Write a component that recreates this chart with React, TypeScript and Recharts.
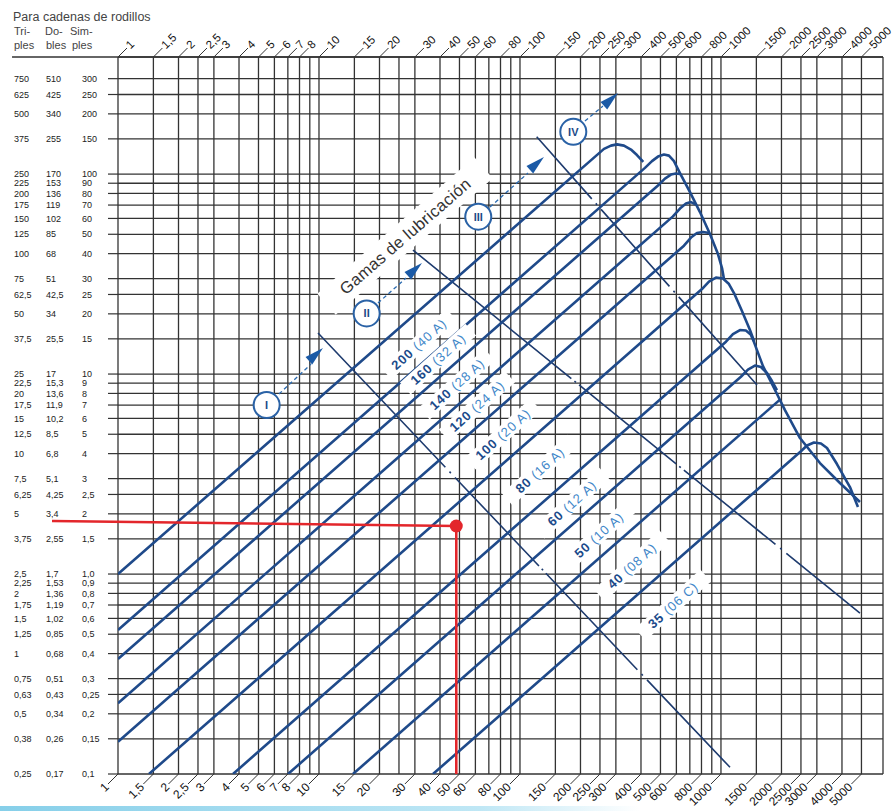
import React from "react";
import { LineChart, Line, XAxis, YAxis, CartesianGrid, ReferenceLine, ReferenceDot } from "recharts";

const FONT = "'Liberation Sans', Arial, Helvetica, sans-serif";

// ---- axes ----
const RPM_GRID = [1, 1.5, 2, 2.5, 3, 4, 5, 6, 7, 8, 9, 10, 15, 20, 25, 30, 40, 50, 60, 70, 80, 90, 100, 150, 200, 250, 300, 400, 500, 600, 700, 800, 900, 1000, 1500, 2000, 2500, 3000, 4000, 5000];
const RPM_LABELED = [1, 1.5, 2, 2.5, 3, 4, 5, 6, 7, 8, 10, 15, 20, 30, 40, 50, 60, 80, 100, 150, 200, 250, 300, 400, 500, 600, 800, 1000, 1500, 2000, 2500, 3000, 4000, 5000];

const SIMPLES = [300, 250, 200, 150, 100, 90, 80, 70, 60, 50, 40, 30, 25, 20, 15, 10, 9, 8, 7, 6, 5, 4, 3, 2.5, 2, 1.5, 1, 0.9, 0.8, 0.7, 0.6, 0.5, 0.4, 0.3, 0.25, 0.2, 0.15, 0.1];
const SIMPLES_TXT = ["300", "250", "200", "150", "100", "90", "80", "70", "60", "50", "40", "30", "25", "20", "15", "10", "9", "8", "7", "6", "5", "4", "3", "2,5", "2", "1,5", "1,0", "0,9", "0,8", "0,7", "0,6", "0,5", "0,4", "0,3", "0,25", "0,2", "0,15", "0,1"];
const DOBLES_TXT = ["510", "425", "340", "255", "170", "153", "136", "119", "102", "85", "68", "51", "42,5", "34", "25,5", "17", "15,3", "13,6", "11,9", "10,2", "8,5", "6,8", "5,1", "4,25", "3,4", "2,55", "1,7", "1,53", "1,36", "1,19", "1,02", "0,85", "0,68", "0,51", "0,43", "0,34", "0,26", "0,17"];
const TRIPLES_TXT = ["750", "625", "500", "375", "250", "225", "200", "175", "150", "125", "100", "75", "62,5", "50", "37,5", "25", "22,5", "20", "17,5", "15", "12,5", "10", "7,5", "6,25", "5", "3,75", "2,5", "2,25", "2", "1,75", "1,5", "1,25", "1", "0,75", "0,63", "0,5", "0,38", "0,25"];

// ---- chain curves (n = rpm, p = kW simple) ----
const C200 = [
  { n: 1, p: 1.0 }, { n: 261.8, p: 133.7 }, { n: 283.6, p: 138.8 }, { n: 303.8, p: 140.8 },
  { n: 329.1, p: 138.8 }, { n: 356.6, p: 132.6 }, { n: 382, p: 124.5 }, { n: 410.6, p: 115.2 },
];
const C160 = [
  { n: 1, p: 0.525 }, { n: 418.7, p: 107.4 }, { n: 453.7, p: 116.1 }, { n: 486.0, p: 122.3 },
  { n: 520.5, p: 125.2 }, { n: 551.1, p: 123.7 }, { n: 583.6, p: 116.1 }, { n: 625.2, p: 101.2 },
  { n: 701.3, p: 81.28 }, { n: 786.2, p: 64.57 }, { n: 881.6, p: 50.12 }, { n: 966.3, p: 39.81 },
  { n: 1012, p: 33.88 }, { n: 1035, p: 29.85 },
];
const C140 = [
  { n: 1, p: 0.376 }, { n: 486.0, p: 87.7 }, { n: 526.5, p: 94.95 }, { n: 563.9, p: 99.43 },
  { n: 597.2, p: 100.6 }, { n: 625.2, p: 100.0 },
];
const C120 = [
  { n: 1, p: 0.226 }, { n: 577.0, p: 61.44 }, { n: 625.2, p: 67.23 }, { n: 669.8, p: 71.19 },
  { n: 709.2, p: 72.44 }, { n: 750.9, p: 70.39 },
];
const C100 = [
  { n: 1, p: 0.145 }, { n: 654.5, p: 43.85 }, { n: 709.2, p: 48.14 }, { n: 759.6, p: 50.7 },
  { n: 813.5, p: 51.29 }, { n: 876.6, p: 50.7 },
];
const C80 = [
  { n: 1.426, p: 0.1 }, { n: 804.5, p: 26.61 }, { n: 871.6, p: 29.0 }, { n: 944.3, p: 30.38 },
  { n: 1023, p: 30.03 }, { n: 1096, p: 28.18 }, { n: 1161, p: 25.41 }, { n: 1272, p: 20.65 },
  { n: 1394, p: 16.6 }, { n: 1460, p: 14.62 },
];
const C60 = [
  { n: 3.734, p: 0.1 }, { n: 1059, p: 14.52 }, { n: 1147, p: 15.85 }, { n: 1243, p: 16.6 },
  { n: 1331, p: 16.5 }, { n: 1410, p: 15.7 }, { n: 1460, p: 14.45 }, { n: 1618, p: 10.96 },
  { n: 1857, p: 8.32 }, { n: 2082, p: 6.607 }, { n: 2472, p: 4.786 }, { n: 3108, p: 3.589 },
  { n: 3908, p: 2.851 }, { n: 4915, p: 2.291 },
];
const C50 = [
  { n: 7.013, p: 0.1 }, { n: 1257, p: 9.694 }, { n: 1362, p: 10.53 }, { n: 1476, p: 11.03 },
  { n: 1581, p: 10.84 }, { n: 1694, p: 10.12 }, { n: 1794, p: 9.226 }, { n: 1899, p: 8.318 },
];
const C40 = [{ n: 14.76, p: 0.1 }, { n: 1966, p: 7.45 }];
const C35 = [
  { n: 36.92, p: 0.1 }, { n: 2500, p: 4.11 }, { n: 2679, p: 4.391 }, { n: 2902, p: 4.545 },
  { n: 3144, p: 4.493 }, { n: 3369, p: 4.266 }, { n: 3776, p: 3.548 }, { n: 4383, p: 2.723 },
  { n: 4804, p: 2.163 },
];
const CHAINS = [C200, C160, C140, C120, C100, C80, C60, C50, C40, C35];

// chain labels
const LABEL_N = [31.4, 39.1, 48.6, 61.1, 82.3, 125.7, 181.4, 247.2, 360.7, 577];
const LABEL_P = [14.13, 11.89, 8.91, 6.92, 5.01, 3.31, 2.26, 1.57, 1.10, 0.70];
const LABEL_MAIN = ["200", "160", "140", "120", "100", "80", "60", "50", "40", "35"];
const LABEL_SUB = ["(40 A)", "(32 A)", "(28 A)", "(24 A)", "(20 A)", "(16 A)", "(12 A)", "(10 A)", "(08 A)", "(06 C)"];

// lubrication range boundaries
const LUB_A = [{ n: 9.89, p: 16.03 }, { n: 1109, p: 0.108 }];
const LUB_B = [{ n: 29.35, p: 41.7 }, { n: 4915, p: 0.638 }];
const LUB_C = [{ n: 121.1, p: 153.6 }, { n: 1511, p: 8.81 }];

// range circles, dashed arrows
const RANGE_TXT = ["I", "II", "III", "IV"];
const RANGE_N = [5.49, 17.27, 62.0, 184.2];
const RANGE_P = [7.0, 20.1, 61.2, 162.7];
const DASH_FROM = [{ n: 6.32, p: 7.94 }, { n: 19.66, p: 22.65 }, { n: 70.9, p: 68.4 }, { n: 210.5, p: 184.1 }];
const DASH_TO = [{ n: 9.13, p: 11.22 }, { n: 27.09, p: 30.2 }, { n: 109.6, p: 101.2 }, { n: 258.7, p: 218.8 }];
const ARROW_TIP = [{ n: 10.47, p: 13.49 }, { n: 32.53, p: 35.9 }, { n: 131.6, p: 121.6 }, { n: 307.3, p: 254.1 }];

// example (red)
const EX_RPM = 48.2;
const EX_KW = 1.738;
const EX_LEFT = { n: 0.4695, p: 1.841 };

const X_DOMAIN = [1, 6400];
const Y_DOMAIN = [0.1, 385];

const fmt = (v: number) => String(v).replace(".", ",");

const TopTick = (props: any) => {
  const { x, payload } = props;
  const v = payload && payload.value;
  if (!RPM_LABELED.includes(v)) return <g />;
  const y0 = 57;
  const tx = x + 10;
  const ty = y0 - 10;
  return (
    <g>
      <line x1={x} y1={y0} x2={x + 9} y2={y0 - 9} stroke="#333" strokeWidth={1} />
      <text x={tx} y={ty} dy="0.32em" transform={`rotate(-45 ${tx} ${ty})`} fontSize={11.5} fontFamily={FONT} fill="#111">
        {fmt(v)}
      </text>
    </g>
  );
};

const BottomTick = (props: any) => {
  const { x, payload } = props;
  const v = payload && payload.value;
  if (!RPM_LABELED.includes(v)) return <g />;
  const y0 = 774;
  const tx = x - 11;
  const ty = y0 + 11;
  return (
    <g>
      <line x1={x} y1={y0} x2={x - 10} y2={y0 + 10} stroke="#333" strokeWidth={1} />
      <text x={tx} y={ty} dy="0.32em" textAnchor="end" transform={`rotate(-45 ${tx} ${ty})`} fontSize={12} fontFamily={FONT} fill="#111">
        {fmt(v)}
      </text>
    </g>
  );
};

const YTick = (props: any) => {
  const { y, payload } = props;
  const i = SIMPLES.indexOf(payload && payload.value);
  if (i < 0) return <g />;
  const st = { fontSize: 9, fontFamily: FONT, fill: "#222" } as any;
  return (
    <g>
      <line x1={108} y1={y} x2={118} y2={y} stroke="#333" strokeWidth={1.2} />
      <text x={14} y={y} dy="0.35em" {...st}>{TRIPLES_TXT[i]}</text>
      <text x={46} y={y} dy="0.35em" {...st}>{DOBLES_TXT[i]}</text>
      <text x={82} y={y} dy="0.35em" {...st}>{SIMPLES_TXT[i]}</text>
    </g>
  );
};

const makeLabelShape = (i: number) => (props: any) => {
  const { cx, cy } = props;
  const w = 88;
  return (
    <g transform={`translate(${cx},${cy}) rotate(-42)`}>
      <rect x={-w / 2} y={-8} width={w} height={16} fill="#fff" />
      <text x={0} y={0} dy="0.36em" textAnchor="middle" fontSize={13} fontFamily={FONT} letterSpacing={0.9}>
        <tspan fontWeight="bold" fill="#1b4a8a">{LABEL_MAIN[i]}</tspan>
        <tspan fill="#3f87c9">{" " + LABEL_SUB[i]}</tspan>
      </text>
    </g>
  );
};

const makeCircleShape = (i: number) => (props: any) => {
  const { cx, cy } = props;
  return (
    <g>
      <circle cx={cx} cy={cy} r={13} fill="#fff" stroke="#2a62a6" strokeWidth={2} />
      <text x={cx} y={cy} dy="0.36em" textAnchor="middle" fontSize={11} fontWeight="bold" fontFamily={FONT} fill="#1d4a88">
        {RANGE_TXT[i]}
      </text>
    </g>
  );
};

const arrowShape = (props: any) => {
  const { cx, cy } = props;
  return (
    <polygon points="0,0 -19,-5 -19,5" transform={`translate(${cx},${cy}) rotate(-42)`} fill="#1b5aa6" />
  );
};

const gamasShape = (props: any) => {
  const { cx, cy } = props;
  return (
    <g transform={`translate(${cx},${cy}) rotate(-41)`}>
      <rect x={-104} y={-14} width={208} height={28} fill="#fff" />
      <text x={0} y={0} dy="0.36em" textAnchor="middle" fontSize={16.5} fontFamily={FONT} fill="#333" letterSpacing={0.4}>
        Gamas de lubricación
      </text>
    </g>
  );
};

export default function App() {
  return (
    <div style={{ position: "absolute", left: 0, top: 0, width: 894, height: 811, background: "#fff", overflow: "hidden" }}>
      <LineChart width={894} height={811} margin={{ top: 10, right: 11, bottom: 0, left: 8 }} style={{ overflow: "visible" }}>
        <CartesianGrid stroke="#333" strokeWidth={1.3} />
        <XAxis
          dataKey="n" type="number" scale="log" domain={X_DOMAIN} allowDataOverflow ticks={RPM_GRID} interval={0}
          orientation="top" height={47} axisLine={false} tickLine={false} tick={TopTick}
        />
        <XAxis
          xAxisId="b" dataKey="n" type="number" scale="log" domain={X_DOMAIN} allowDataOverflow ticks={RPM_GRID} interval={0}
          orientation="bottom" height={37} axisLine={false} tickLine={false} tick={BottomTick}
        />
        <YAxis
          dataKey="p" type="number" scale="log" domain={Y_DOMAIN} allowDataOverflow ticks={SIMPLES} interval={0}
          width={110} axisLine={false} tickLine={false} tick={YTick}
        />
        <ReferenceLine segment={[{ x: 0.297, y: 385 }, { x: 6400, y: 385 }]} stroke="#333" strokeWidth={1.4} ifOverflow="visible" />

        {LABEL_MAIN.map((_, i) => (
          <ReferenceDot key={"lb" + i} x={LABEL_N[i]} y={LABEL_P[i]} r={1} shape={makeLabelShape(i)} />
        ))}
        <ReferenceDot x={26.8} y={49.0} r={1} shape={gamasShape} />

        <Line data={LUB_A} dataKey="p" stroke="#1e3b6e" strokeWidth={1.6} dot={false} isAnimationActive={false} strokeDasharray="185 6 2 6 122 4 2 4 133 6 2 6 300" />
        <Line data={LUB_B} dataKey="p" stroke="#1e3b6e" strokeWidth={1.6} dot={false} isAnimationActive={false} strokeDasharray="204 4 2 4 125 4 2 4 118 6 2 6 300" />
        <Line data={LUB_C} dataKey="p" stroke="#1e3b6e" strokeWidth={1.6} dot={false} isAnimationActive={false} strokeDasharray="83 6 2 6 103 6 2 6 300" />

        {CHAINS.map((c, i) => (
          <Line key={"c" + i} data={c} dataKey="p" type="linear" stroke="#1f4a8a" strokeWidth={2.6} dot={false} isAnimationActive={false} strokeLinejoin="round" />
        ))}

        {RANGE_TXT.map((_, i) => (
          <ReferenceLine key={"d" + i} segment={[{ x: DASH_FROM[i].n, y: DASH_FROM[i].p }, { x: DASH_TO[i].n, y: DASH_TO[i].p }]} stroke="#2a6ab0" strokeWidth={1.3} strokeDasharray="4 3" />
        ))}
        {RANGE_TXT.map((_, i) => (
          <ReferenceDot key={"a" + i} x={ARROW_TIP[i].n} y={ARROW_TIP[i].p} r={1} shape={arrowShape} />
        ))}
        {RANGE_TXT.map((_, i) => (
          <ReferenceDot key={"r" + i} x={RANGE_N[i]} y={RANGE_P[i]} r={13} shape={makeCircleShape(i)} />
        ))}

        <ReferenceLine segment={[{ x: EX_LEFT.n, y: EX_LEFT.p }, { x: EX_RPM, y: EX_KW }]} stroke="#e3262b" strokeWidth={2.6} ifOverflow="visible" />
        <ReferenceLine segment={[{ x: EX_RPM, y: EX_KW }, { x: EX_RPM, y: 0.1 }]} stroke="#e3262b" strokeWidth={2.6} ifOverflow="visible" />
        <ReferenceDot x={EX_RPM} y={EX_KW} r={6.5} fill="#e3262b" stroke="none" />
      </LineChart>

      <svg width={894} height={60} style={{ position: "absolute", left: 0, top: 0, pointerEvents: "none" }}>
        <g fontFamily={FONT} fill="#444">
          <text x={13} y={21} fontSize={12.5}>Para cadenas de rodillos</text>
          <text x={14} y={35} fontSize={11}>Tri-</text>
          <text x={45} y={35} fontSize={11}>Do-</text>
          <text x={70} y={35} fontSize={11}>Sim-</text>
          <text x={14} y={49} fontSize={11}>ples</text>
          <text x={46} y={49} fontSize={11}>bles</text>
          <text x={72} y={49} fontSize={11}>ples</text>
        </g>
      </svg>
      <div style={{ position: "absolute", left: 0, top: 806, width: 640, height: 5, background: "linear-gradient(90deg, #86cfe9, #bfe7f5 75%, rgba(255,255,255,0))" }} />
    </div>
  );
}
